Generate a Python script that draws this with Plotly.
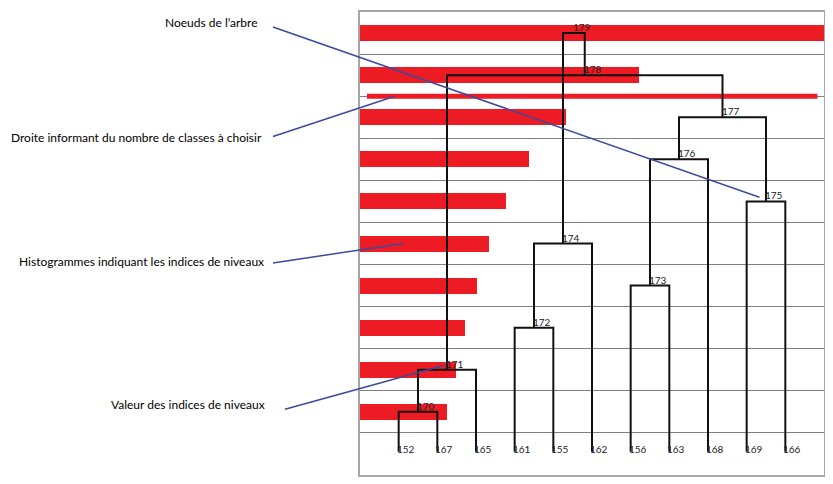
import plotly.graph_objects as go

# feuilles de l'arbre (ordre d'affichage de gauche a droite)
leaves = ["152", "167", "165", "161", "155", "162", "156", "163", "168", "169", "166"]

# noeuds (rang de niveau 1..10) et leurs deux fils
nodes = ["170", "171", "172", "173", "174", "175", "176", "177", "178", "179"]
node_rank = [1, 2, 3, 4, 5, 6, 7, 8, 9, 10]
node_left = ["152", "170", "161", "156", "172", "169", "173", "176", "171", "174"]
node_right = ["167", "165", "155", "163", "162", "166", "168", "175", "177", "178"]

# longueur des histogrammes (indices de niveaux, en unites de l'axe)
bar_values = [2.25, 2.48, 2.72, 3.02, 3.34, 3.78, 4.36, 5.33, 7.21, 12.0]

# droite de coupure
cut_level = 9
cut_x = [0.18, 11.83]

RED = "#ed1c24"
BLUE = "#3b4a9e"
PAGE = 8  # marge par defaut du <body> de la page
W, H = 833 - PAGE, 484 - PAGE
ML, MR, MT, MB = 360 - PAGE, 9, 10 - PAGE, 9
XR = [0, 12]
YR = [0, 11]

pos = {}
for i, name in enumerate(leaves):
    pos[name] = (i + 1, 0.55)

xs, ys = [], []
for name, r, a, b in zip(nodes, node_rank, node_left, node_right):
    h = r + 0.5
    xa, ya = pos[a]
    xb, yb = pos[b]
    xs += [xa, xa, xb, xb, None]
    ys += [ya, h, h, yb, None]
    pos[name] = ((xa + xb) / 2, h)

fig = go.Figure()

fig.add_trace(go.Bar(
    x=bar_values, y=[r + 0.5 for r in node_rank], orientation="h",
    width=0.38, marker=dict(color=RED, line=dict(width=0)), hoverinfo="skip",
))
fig.add_trace(go.Scatter(
    x=cut_x, y=[cut_level, cut_level], mode="lines",
    line=dict(color=RED, width=5), hoverinfo="skip",
))
fig.add_trace(go.Scatter(
    x=xs, y=ys, mode="lines",
    line=dict(color="#111111", width=2), hoverinfo="skip",
))

# etiquettes des noeuds et des feuilles
for name in nodes:
    x, y = pos[name]
    fig.add_annotation(x=x, y=y, text=name, showarrow=False, xanchor="left",
                       yanchor="bottom", xshift=-3, yshift=-2,
                       font=dict(family="Lato", size=10, color="#222"))
for name in leaves:
    x, y = pos[name]
    fig.add_annotation(x=x, y=0.62, text=name, showarrow=False, xanchor="left",
                       xshift=-4, font=dict(family="Lato", size=10, color="#222"))


def px_x(p):
    return (p - PAGE - ML) / (W - ML - MR)


def px_y(p):
    return (H + PAGE - MB - p) / (H - MT - MB)


def dx(v):
    return (v - XR[0]) / (XR[1] - XR[0])


def dy(v):
    return (v - YR[0]) / (YR[1] - YR[0])


# legendes a gauche avec leur trait
callouts = [
    ("Noeuds de l\u2019arbre", 260, 21, 273, 25, 10.33, 6.6),
    ("Droite informant du nombre de classes \u00e0 choisir", 264, 136, 273, 135, 0.9, 9.0),
    ("Histogrammes indiquant les indices de niveaux", 266, 261, 273, 262, 1.12, 5.5),
    ("Valeur des indices de niveaux", 267, 404, 285, 409, 2.16, 2.6),
]
for text, tx, ty, lx, ly, hx, hy in callouts:
    fig.add_annotation(xref="paper", yref="paper", x=px_x(tx), y=px_y(ty),
                       text=text, showarrow=False, xanchor="right", yanchor="middle",
                       font=dict(family="Lato", size=12, color="black"))
    fig.add_shape(type="line", xref="paper", yref="paper",
                  x0=px_x(lx), y0=px_y(ly), x1=dx(hx), y1=dy(hy),
                  line=dict(color=BLUE, width=1.5))

fig.update_layout(
    width=W, height=H,
    margin=dict(l=ML, r=MR, t=MT, b=MB),
    paper_bgcolor="white", plot_bgcolor="white",
    showlegend=False, bargap=0,
)
fig.update_xaxes(range=XR, showgrid=False, zeroline=False, showticklabels=False,
                 ticks="", showline=True, mirror=True, linecolor="#a6a6a6", linewidth=2)
fig.update_yaxes(range=YR, tick0=0, dtick=1, showgrid=True, gridcolor="#808080",
                 gridwidth=1, zeroline=False, showticklabels=False, ticks="",
                 showline=True, mirror=True, linecolor="#a6a6a6", linewidth=2)

fig.write_html("out.html")
